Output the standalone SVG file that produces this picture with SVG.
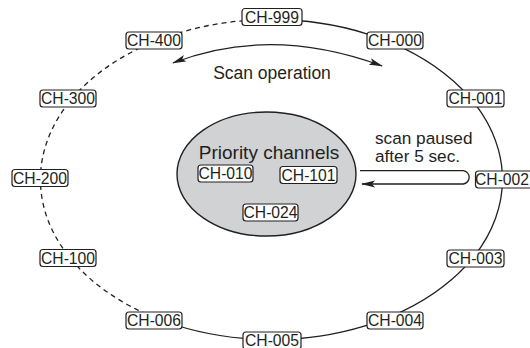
<svg xmlns="http://www.w3.org/2000/svg" width="530" height="348" viewBox="0 0 530 348">
<style>
.ln{fill:none;stroke:#231f20;stroke-width:1.3}
.dash{stroke-dasharray:5 4}
.box rect{fill:#fff;stroke:#231f20;stroke-width:1.2}
.box text{font-family:"Liberation Sans",Arial,sans-serif;font-size:15.7px;fill:#231f20;text-anchor:middle}
.lbl{font-family:"Liberation Sans",Arial,sans-serif;fill:#231f20}
</style>
<defs>
<marker id="ah" viewBox="0 0 14 8" refX="13" refY="4" markerWidth="14" markerHeight="8" markerUnits="userSpaceOnUse" orient="auto-start-reverse">
<path d="M0,0.5 L14,4 L0,7.5 L3,4 Z" fill="#231f20"/>
</marker>
</defs>
<g id="connectors">
<path class="ln" d="M271.5,19.5 A231,160 0 1 1 163.6,321"/>
<path class="ln dash" d="M163.6,321 A231,160 0 0 1 271.5,19.5"/>
<path class="ln" d="M173,63 Q270,25 382,66" marker-start="url(#ah)" marker-end="url(#ah)"/>
<path class="ln" d="M360,170.7 H463.3 A6.7,6.7 0 0 1 463.3,184 H362" marker-end="url(#ah)"/>
</g>
<g id="priority">
<ellipse cx="266.5" cy="174" rx="89.5" ry="62" fill="#d1d2d4" stroke="#231f20" stroke-width="1.4"/>
<text class="lbl" x="269" y="159" font-size="19" text-anchor="middle">Priority channels</text>
</g>
<text id="scanop" class="lbl" x="272" y="79" font-size="17.5" text-anchor="middle">Scan operation</text>
<g id="paused" class="lbl" font-size="17.2">
<text x="375" y="144">scan paused</text>
<text x="375" y="162.3">after 5 sec.</text>
</g>
<g id="ch999" class="box"><rect x="242" y="8.5" width="60" height="17" rx="3"/><text x="272" y="22.8">CH-999</text></g>
<g id="ch400" class="box"><rect x="126" y="32" width="56" height="17" rx="3"/><text x="154" y="46.3">CH-400</text></g>
<g id="ch000" class="box"><rect x="367" y="32" width="56" height="17" rx="3"/><text x="395" y="46.3">CH-000</text></g>
<g id="ch300" class="box"><rect x="40" y="90" width="56" height="17" rx="3"/><text x="68" y="104.3">CH-300</text></g>
<g id="ch001" class="box"><rect x="447" y="90" width="57" height="17" rx="3"/><text x="475.5" y="104.3">CH-001</text></g>
<g id="ch200" class="box"><rect x="12" y="169.5" width="56" height="17" rx="3"/><text x="40" y="183.8">CH-200</text></g>
<g id="ch002" class="box"><rect x="475.5" y="171" width="57" height="17" rx="3"/><text x="502" y="185.3">CH-002</text></g>
<g id="ch100" class="box"><rect x="40" y="249.5" width="56" height="17" rx="3"/><text x="68" y="263.8">CH-100</text></g>
<g id="ch003" class="box"><rect x="447" y="250" width="57" height="17" rx="3"/><text x="475.5" y="264.3">CH-003</text></g>
<g id="ch006" class="box"><rect x="126" y="312" width="56" height="17" rx="3"/><text x="154" y="326.3">CH-006</text></g>
<g id="ch004" class="box"><rect x="367" y="312" width="56" height="17" rx="3"/><text x="395" y="326.3">CH-004</text></g>
<g id="ch005" class="box"><rect x="243" y="332" width="58" height="17" rx="3"/><text x="272" y="346.3">CH-005</text></g>
<g id="ch010" class="box"><rect x="198" y="165" width="55" height="17" rx="3"/><text x="225.5" y="179.3">CH-010</text></g>
<g id="ch101" class="box"><rect x="280" y="166.5" width="57" height="17" rx="3"/><text x="308.5" y="180.8">CH-101</text></g>
<g id="ch024" class="box"><rect x="243" y="204" width="55" height="17" rx="3"/><text x="270.5" y="218.3">CH-024</text></g>
</svg>
